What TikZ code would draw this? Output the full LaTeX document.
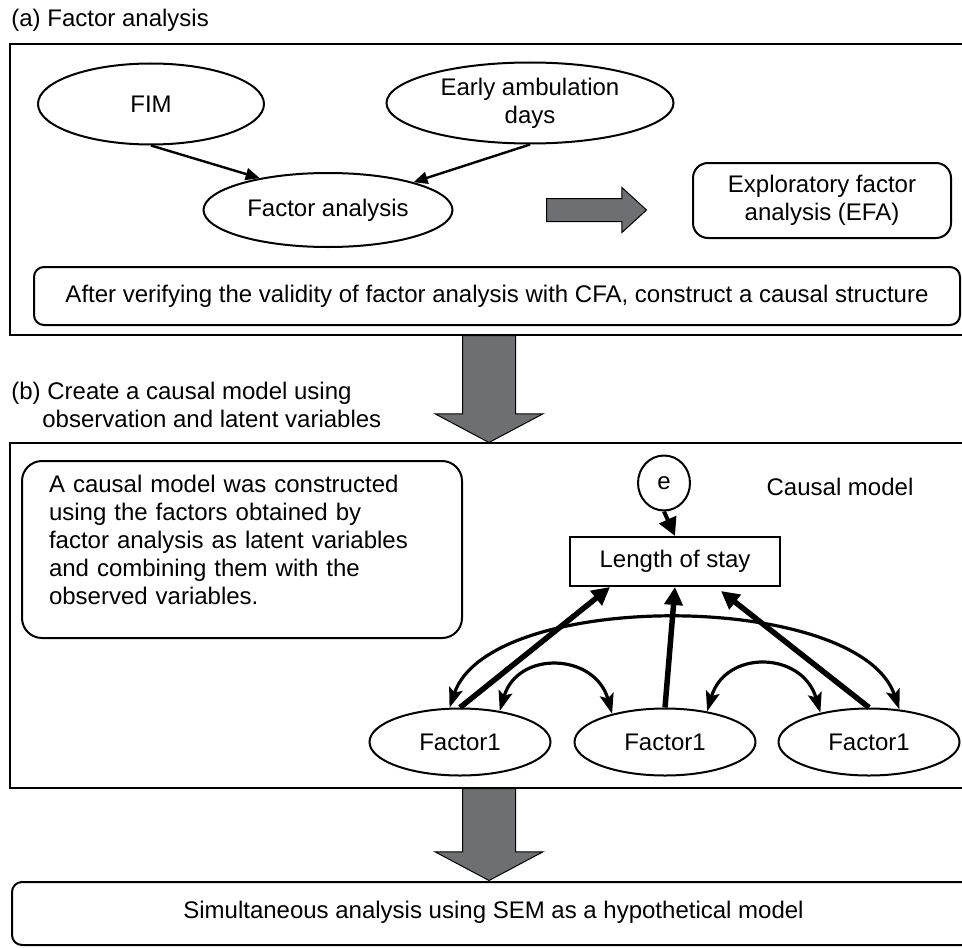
\documentclass[tikz,border=0pt]{standalone}
\usepackage{fontspec}
\setmainfont{Liberation Sans}
\usetikzlibrary{arrows.meta}
\usetikzlibrary{shapes.geometric}
\usetikzlibrary{shapes.arrows}
\definecolor{arrowgray}{RGB}{110,111,115}

\begin{document}
\begin{tikzpicture}[
    x=0.5pt, y=-0.5pt,
    every node/.style={font=\fontsize{12}{14}\selectfont},
    oval/.style={ellipse, draw=black, line width=1pt, inner sep=0},
    frame/.style={rectangle, draw=black, line width=1pt},
    rbox/.style={rectangle, draw=black, line width=1pt},
    block/.style={single arrow, draw=black, line width=0.5pt, fill=arrowgray,
        inner xsep=0, single arrow head indent=0, anchor=tail},
    link/.style={-{Triangle[length=7pt, width=6pt]}, line width=1.2pt},
    effect/.style={-{Triangle[length=9pt, width=9pt]}, line width=2.75pt},
    covar/.style={{Stealth[length=10pt, width=7pt, inset=2pt]}-{Stealth[length=10pt, 
            width=7pt, inset=2pt]}, line width=1.6pt},
    ]

    \clip (0,0) rectangle (962,947);

    % (a)
    \node (lbl-a) [anchor=west, inner sep=0] at (11,20) {(a) Factor analysis};
    \node (frame-a) [frame, minimum width=488pt, minimum height=145.5pt] at 
    (498,189.5) {};
    \node (fim) [oval, minimum width=113pt, minimum height=40.5pt] at (151,104) 
    {FIM};
    \node (early) [oval, minimum width=143.5pt, minimum height=40.5pt, 
    align=center] at (530,103) {Early ambulation\\days};
    \node (fa) [oval, minimum width=124.5pt, minimum height=37pt] at (328,210) 
    {Factor analysis};
    \node (to-efa) [block, inner ysep=5.5pt, single arrow head extend=5.5pt, 
    single arrow tip angle=85, minimum height=50pt] at (546,210) {};
    \node (efa) [rbox, rounded corners=7.5pt, minimum width=129pt, minimum 
    height=37.5pt, align=center] at (822,200.5) {Exploratory factor\\analysis 
    (EFA)};
    \node (cfa) [rbox, rounded corners=5pt, minimum width=463pt, minimum 
    height=29pt] at (497,296) {After verifying the validity of factor analysis 
    with CFA, construct a causal structure};

    \draw [link] (fim.south) -- (fa.155);
    \draw [link] (early.south) -- (fa.18);

    % (b)
    \node (to-b) [block, rotate=-90, inner ysep=13pt, single arrow head 
    extend=13.75pt, single arrow tip angle=124, minimum height=53.5pt] at 
    (489,335) {};
    \node (lbl-b) [anchor=west, align=left, inner sep=0] at (11,405) {(b) Create 
    a causal model using\\\hspace*{15.5pt}observation and latent variables};
    \node (frame-b) [frame, minimum width=488pt, minimum height=172.5pt] at 
    (498,615.5) {};
    \node (note) [rbox, rounded corners=10pt, minimum width=220pt, minimum 
    height=88.5pt, text width=193pt, inner xsep=13.5pt, align=left] at 
    (242,549.5) {A causal model was constructed\\using the factors obtained 
    by\\factor analysis as latent variables\\and combining them with 
    the\\observed variables.\\[-4pt]\mbox{}};

    \node (e) [oval, minimum width=26pt, minimum height=27.5pt] at (664,483) 
    {e};
    \node (causal-lbl) at (840,487) {Causal model};
    \node (los) [rbox, minimum width=105pt, minimum height=24.5pt] at 
    (675,561.5) {Length of stay};
    \foreach \i/\x in {1/460, 2/665, 3/869} {
        \node (f\i) [oval, minimum width=90.5pt, minimum height=33.5pt] at 
        (\x,742) {Factor1};
    }

    \draw [effect, line width=2pt] (e.south) -- (los.north);
    \draw [effect] (f1.north) -- ([xshift=-32.5pt]los.south);
    \draw [effect] (f2.north) -- (los.south);
    \draw [effect] (f3.north) -- ([xshift=23pt, yshift=-2pt]los.south);

    \draw [covar] (f1.107) .. controls +(40,-119) and +(-40,-119) .. (f3.47);
    \draw [covar] (f1.38) .. controls +(18,-61) and +(-17,-61) .. (f2.152);
    \draw [covar] (f2.36) .. controls +(18,-62) and +(-18,-62) .. (f3.149);

    % (c)
    \node (to-sem) [block, rotate=-90, inner ysep=13pt, single arrow head 
    extend=13.75pt, single arrow tip angle=124, minimum height=46pt] at 
    (489,788) {};
    \node (sem) [rbox, rounded corners=5pt, minimum width=481.5pt, minimum 
    height=31.5pt] at (493.5,913.5) {\raisebox{4pt}{Simultaneous analysis 
    using SEM as a hypothetical model}};
\end{tikzpicture}
\end{document}
